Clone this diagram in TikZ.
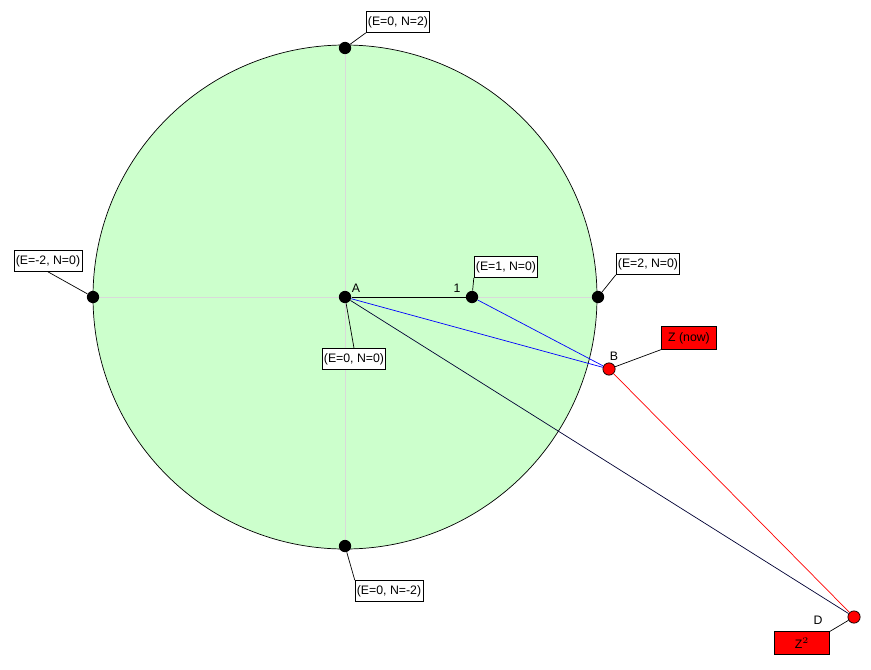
\documentclass[tikz,border=0pt]{standalone}
\usepackage{fontspec}
\setmainfont{Liberation Sans}
\begin{document}
\begin{tikzpicture}[x=0.02cm,y=-0.02cm,font=\fontsize{7}{8}\selectfont,
  dot/.style={circle,fill=black,inner sep=0pt,minimum size=7pt},
  rdot/.style={circle,fill=red,draw=black,inner sep=0pt,minimum size=7pt},
  tag/.style={draw,fill=white,minimum width=1.1cm,minimum height=0.42cm,inner sep=1pt},
  rtag/.style={draw,fill=red,minimum width=1.1cm,minimum height=0.45cm,inner sep=1pt}]
\useasboundingbox (0,0) rectangle (871,669);
\fill[green!20] (345,297) circle[radius=252];
\draw[black!15] (93,297) -- (598,297);
\draw[black!15] (345,48) -- (345,546);
\draw (345,297) circle[radius=252];

\node[dot] (A) at (345,297) {};
\node[dot] (P) at (472,297) {};
\node[dot] (N) at (345,48) {};
\node[dot] (S) at (345,546) {};
\node[dot] (W) at (93,297) {};
\node[dot] (E) at (598,297) {};
\node[rdot] (B) at (609,369) {};
\node[rdot] (D) at (854,617) {};

\node at (356,288) {A};
\node at (457,288) {1};
\node at (614,356) {B};
\node at (818,620) {D};

\node[tag] (lN) at (398,22) {(E=0, N=2)};
\node[tag] (lW) at (48,261) {(E=-2, N=0)};
\node[tag] (lE) at (648,264) {(E=2, N=0)};
\node[tag] (lP) at (506,267) {(E=1, N=0)};
\node[tag] (lA) at (354,359) {(E=0, N=0)};
\node[tag] (lS) at (389,591) {(E=0, N=-2)};
\node[rtag] (lB) at (689,338) {Z (now)};
\node[rtag] (lD) at (802,643) {Z$^2$};

\draw (A) -- (P);
\draw[blue] (A) -- (B);
\draw[blue] (P) -- (B);
\draw[red] (B) -- (D);
\draw[black!80!blue] (A) -- (D);

\draw (N) -- (lN.south west);
\draw (W) -- (lW.south);
\draw (E) -- (lE.south west);
\draw (P) -- (lP.south west);
\draw (A) -- (lA.north);
\draw (S) -- (lS.north west);
\draw (B) -- (lB.south west);
\draw (D) -- (lD.north east);
\end{tikzpicture}
\end{document}
